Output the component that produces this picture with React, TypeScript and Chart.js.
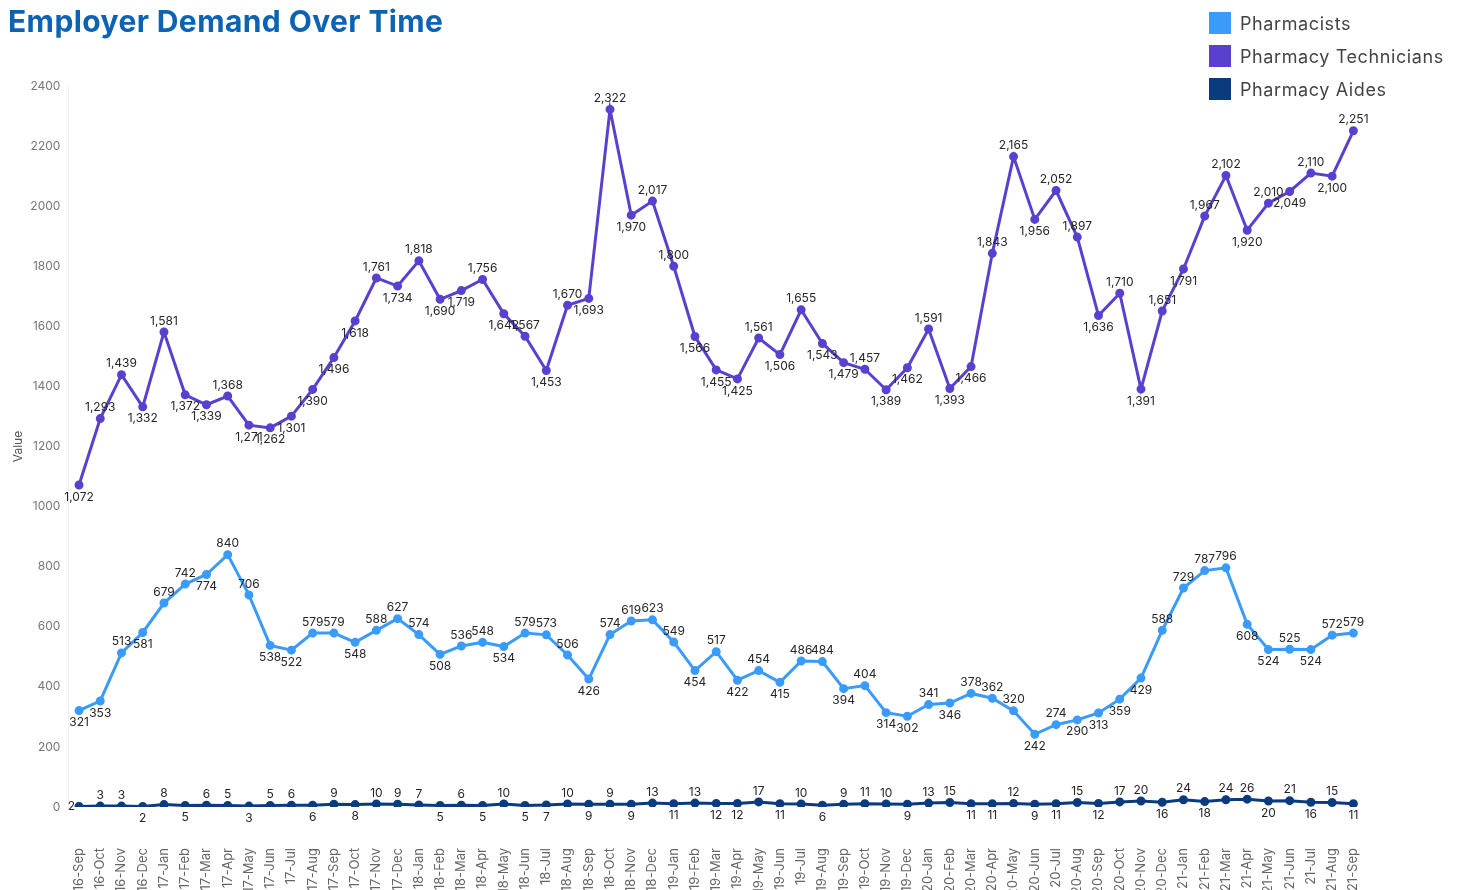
import React, { useEffect, useRef } from "react";
import { Chart, registerables } from "chart.js";

Chart.register(...registerables);

const months = [
  "16-Sep", "16-Oct", "16-Nov", "16-Dec",
  "17-Jan", "17-Feb", "17-Mar", "17-Apr", "17-May", "17-Jun", "17-Jul", "17-Aug", "17-Sep", "17-Oct", "17-Nov", "17-Dec",
  "18-Jan", "18-Feb", "18-Mar", "18-Apr", "18-May", "18-Jun", "18-Jul", "18-Aug", "18-Sep", "18-Oct", "18-Nov", "18-Dec",
  "19-Jan", "19-Feb", "19-Mar", "19-Apr", "19-May", "19-Jun", "19-Jul", "19-Aug", "19-Sep", "19-Oct", "19-Nov", "19-Dec",
  "20-Jan", "20-Feb", "20-Mar", "20-Apr", "20-May", "20-Jun", "20-Jul", "20-Aug", "20-Sep", "20-Oct", "20-Nov", "20-Dec",
  "21-Jan", "21-Feb", "21-Mar", "21-Apr", "21-May", "21-Jun", "21-Jul", "21-Aug", "21-Sep",
];

const pharmacists = [
  321, 353, 513, 581,
  679, 742, 774, 840, 706, 538, 522, 579, 579, 548, 588, 627,
  574, 508, 536, 548, 534, 579, 573, 506, 426, 574, 619, 623,
  549, 454, 517, 422, 454, 415, 486, 484, 394, 404, 314, 302,
  341, 346, 378, 362, 320, 242, 274, 290, 313, 359, 429, 588,
  729, 787, 796, 608, 524, 525, 524, 572, 579,
];

const technicians = [
  1072, 1293, 1439, 1332,
  1581, 1372, 1339, 1368, 1271, 1262, 1301, 1390, 1496, 1618, 1761, 1734,
  1818, 1690, 1719, 1756, 1642, 1567, 1453, 1670, 1693, 2322, 1970, 2017,
  1800, 1566, 1455, 1425, 1561, 1506, 1655, 1543, 1479, 1457, 1389, 1462,
  1591, 1393, 1466, 1843, 2165, 1956, 2052, 1897, 1636, 1710, 1391, 1651,
  1791, 1967, 2102, 1920, 2010, 2049, 2110, 2100, 2251,
];

const aides = [
  2, 3, 3, 2,
  8, 5, 6, 5, 3, 5, 6, 6, 9, 8, 10, 9,
  7, 5, 6, 5, 10, 5, 7, 10, 9, 9, 9, 13,
  11, 13, 12, 12, 17, 11, 10, 6, 9, 11, 10, 9,
  13, 15, 11, 11, 12, 9, 11, 15, 12, 17, 20, 16,
  24, 18, 24, 26, 20, 21, 16, 15, 11,
];

const seriesNames = ["Pharmacists", "Pharmacy Technicians", "Pharmacy Aides"];
const seriesColors = ["#3a9bfa", "#5b40cf", "#0a3b7f"];

const yMin = 0;
const yMax = 2400;
const yStep = 200;

const FONT = "Inter, 'Noto Sans', sans-serif";

const valueLabels = {
  id: "valueLabels",
  afterDatasetsDraw(chart: any) {
    const ctx = chart.ctx;
    ctx.save();
    ctx.font = `12px ${FONT}`;
    ctx.fillStyle = "#262626";
    ctx.textAlign = "center";
    chart.data.datasets.forEach((ds: any, di: number) => {
      const meta = chart.getDatasetMeta(di);
      const vals = ds.data as number[];
      meta.data.forEach((pt: any, i: number) => {
        const v = vals[i];
        const text = v.toLocaleString("en-US");
        if (i === 0 && di === 2) {
          ctx.textAlign = "right";
          ctx.textBaseline = "middle";
          ctx.fillText(text, pt.x - 4, pt.y);
          ctx.textAlign = "center";
          return;
        }
        const prev = i > 0 ? vals[i - 1] : vals[i + 1];
        const next = i < vals.length - 1 ? vals[i + 1] : vals[i - 1];
        const above = v >= (prev + next) / 2;
        if (above) {
          ctx.textBaseline = "bottom";
          ctx.fillText(text, pt.x, pt.y - 5);
        } else {
          ctx.textBaseline = "top";
          ctx.fillText(text, pt.x, pt.y + 6);
        }
      });
    });
    ctx.restore();
  },
};

export default function App() {
  const canvasRef = useRef<HTMLCanvasElement | null>(null);

  useEffect(() => {
    if (!canvasRef.current) return;
    const seriesData = [pharmacists, technicians, aides];
    const chart = new Chart(canvasRef.current, {
      type: "line",
      data: {
        labels: months,
        datasets: seriesNames.map((name, i) => ({
          label: name,
          data: seriesData[i],
          borderColor: seriesColors[i],
          backgroundColor: seriesColors[i],
          borderWidth: 3,
          pointRadius: 3,
          pointHoverRadius: 3,
          tension: 0,
          fill: false,
        })),
      },
      options: {
        animation: false,
        responsive: false,
        maintainAspectRatio: false,
        layout: { padding: { left: 7, right: 96, top: 86, bottom: 0 } },
        plugins: {
          legend: { display: false },
          tooltip: { enabled: false },
          title: { display: false },
        },
        scales: {
          x: {
            offset: true,
            grid: { display: false, drawTicks: false },
            border: { display: false },
            ticks: {
              autoSkip: false,
              maxRotation: 90,
              minRotation: 90,
              padding: 41,
              color: "#666",
              font: { family: FONT, size: 13 },
            },
            afterFit: (scale: any) => {
              scale.height = 93;
            },
          },
          y: {
            min: yMin,
            max: yMax,
            ticks: {
              stepSize: yStep,
              padding: 8,
              color: "#777",
              font: { family: FONT, size: 12 },
              callback: (value: any) => String(value),
            },
            grid: { display: false, drawTicks: false },
            border: { display: true, color: "#f0f0f0" },
            title: {
              display: true,
              text: "Value",
              color: "#555",
              font: { family: FONT, size: 12 },
              padding: { top: 4, bottom: 0 },
            },
            afterFit: (scale: any) => {
              scale.width = 61.4;
            },
          },
        },
      },
      plugins: [valueLabels],
    });
    return () => chart.destroy();
  }, []);

  return (
    <div
      style={{
        position: "fixed",
        left: 0,
        top: 0,
        width: 1460,
        height: 890,
        overflow: "hidden",
        background: "#fff",
        fontFamily: FONT,
      }}
    >
      <canvas
        ref={canvasRef}
        width={1460}
        height={900}
        style={{ position: "absolute", left: 0, top: 0, width: 1460, height: 900 }}
      />
      <div
        style={{
          position: "absolute",
          left: 8,
          top: 3,
          fontSize: 30,
          fontWeight: 700,
          color: "#0b63b6",
          letterSpacing: 0.4,
          whiteSpace: "nowrap",
        }}
      >
        Employer Demand Over Time
      </div>
      <div style={{ position: "absolute", left: 1209, top: 12 }}>
        {seriesNames.map((name, i) => (
          <div
            key={name}
            style={{ display: "flex", alignItems: "center", height: 22, marginBottom: 11 }}
          >
            <div style={{ width: 22, height: 22, background: seriesColors[i], marginRight: 9 }} />
            <span style={{ fontSize: 18, color: "#444", whiteSpace: "nowrap", letterSpacing: 0.6 }}>
              {name}
            </span>
          </div>
        ))}
      </div>
    </div>
  );
}
